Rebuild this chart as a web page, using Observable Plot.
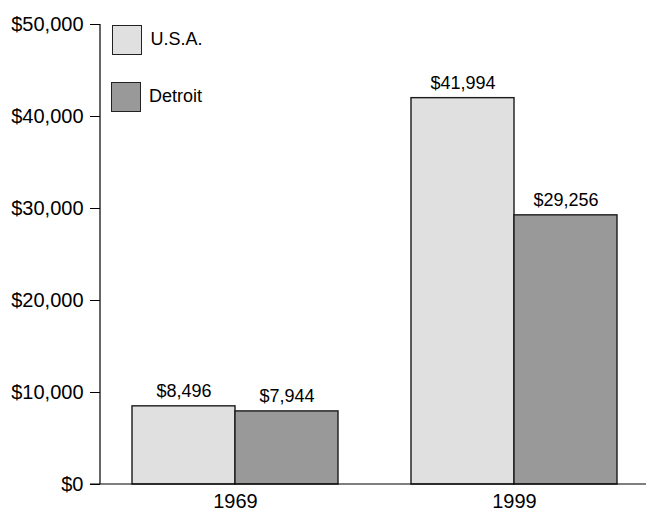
<!DOCTYPE html>
<html>
<head>
<meta charset="utf-8">
<script src="https://cdn.jsdelivr.net/npm/d3@7"></script>
<script src="https://cdn.jsdelivr.net/npm/@observablehq/plot@0.6"></script>
<style>
  body { margin: 0; background: #fff; }
  #chart { position: relative; width: 646px; height: 512px; font-family: "Liberation Sans", Arial, sans-serif; }
  .sw { position: absolute; width: 30px; height: 30px; box-sizing: border-box; border: 1.5px solid #222; }
  .lb { position: absolute; font-size: 18px; line-height: 18px; color: #000; white-space: nowrap; }
</style>
</head>
<body>
<div id="chart"></div>
<script>
// Per-capita income, U.S.A. vs Detroit
const years = ["1969", "1999"];
const series = ["U.S.A.", "Detroit"];
const usaValues = [8496, 41994];
const detroitValues = [7944, 29256];
const yTicks = [0, 10000, 20000, 30000, 40000, 50000];
const fills = ["#e0e0e0", "#999999"];

const money = v => "$" + d3.format(",")(v);

const rows = [];
years.forEach((yr, i) => {
  rows.push({year: yr, series: series[0], value: usaValues[i]});
  rows.push({year: yr, series: series[1], value: detroitValues[i]});
});

const plot = Plot.plot({
  width: 646,
  height: 512,
  marginLeft: 100,
  marginRight: -4,
  marginTop: 24,
  marginBottom: 28,
  style: {fontFamily: "'Liberation Sans', Arial, sans-serif", fontSize: "20px", color: "#000", background: "transparent", overflow: "hidden"},
  // each year's facet starts flush with the left axis; the bar pair is centred inside it
  fx: {domain: years, paddingInner: 0.031, paddingOuter: 0, align: 0, label: null, tickSize: 0, tickPadding: 9},
  x: {domain: series, paddingInner: 0, paddingOuter: 0.3054, align: 0.5, axis: null},
  y: {domain: [0, 50000], ticks: yTicks, tickFormat: money, tickSize: 10, tickPadding: 7, label: null},
  color: {domain: series, range: fills},
  marks: [
    Plot.barY(rows, {fx: "year", x: "series", y: "value", fill: "series", stroke: "#1a1a1a", strokeWidth: 1.4}),
    Plot.text(rows, {fx: "year", x: "series", y: "value", text: d => money(d.value), dy: -9, lineAnchor: "bottom", fontSize: 18, fill: "#000"})
  ]
});

// Axis lines: baseline across the full width and the vertical y-axis line
const y = plot.scale("y");
const svg = d3.select(plot);
svg.append("line")
  .attr("x1", 90).attr("x2", 646)
  .attr("y1", y.apply(0)).attr("y2", y.apply(0))
  .attr("stroke", "#000").attr("stroke-width", 1.2);
svg.append("line")
  .attr("x1", 100).attr("x2", 100)
  .attr("y1", y.apply(50000)).attr("y2", y.apply(0))
  .attr("stroke", "#000").attr("stroke-width", 1.2);

const chart = document.getElementById("chart");
chart.appendChild(plot);

// Legend
const legend = [
  {label: series[0], fill: fills[0], left: 111.5, top: 24.5, textLeft: 150.5, textTop: 29.8},
  {label: series[1], fill: fills[1], left: 110.5, top: 81.5, textLeft: 149, textTop: 86.8}
];
legend.forEach(d => {
  const sw = document.createElement("div");
  sw.className = "sw";
  sw.style.left = d.left + "px";
  sw.style.top = d.top + "px";
  sw.style.background = d.fill;
  chart.appendChild(sw);
  const lb = document.createElement("div");
  lb.className = "lb";
  lb.style.left = d.textLeft + "px";
  lb.style.top = d.textTop + "px";
  lb.textContent = d.label;
  chart.appendChild(lb);
});
</script>
</body>
</html>
